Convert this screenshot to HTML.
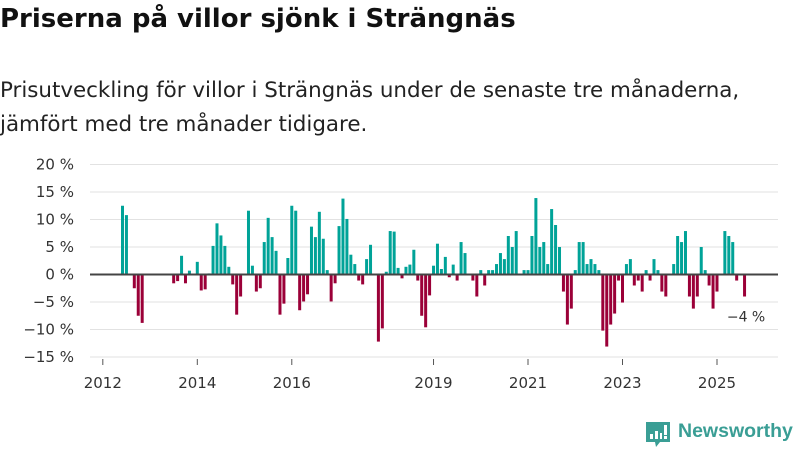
<!DOCTYPE html>
<html><head><meta charset="utf-8"><style>
body{margin:0;width:800px;height:450px;background:#fff;overflow:hidden;font-family:"DejaVu Sans","Liberation Sans",sans-serif;color:#222}
h1{position:absolute;left:0;top:4px;margin:0;font-size:26px;font-weight:bold;color:#111;letter-spacing:0}
.sub{position:absolute;left:0;top:74px;font-size:21.4px;line-height:34px;color:#222;white-space:nowrap}
svg{position:absolute;left:0;top:0}
</style></head><body>
<h1>Priserna på villor sjönk i Strängnäs</h1>
<div class="sub">Prisutveckling för villor i Strängnäs under de senaste tre månaderna,<br>jämfört med tre månader tidigare.</div>
<svg id="chart" width="800" height="450"></svg>
<script>
const yTicks=[20,15,10,5,0,-5,-10,-15];
const yTickLabels=["20 %","15 %","10 %","5 %","0 %","−5 %","−10 %","−15 %"];
const xTickYears=[2012,2014,2016,2019,2021,2023,2025];
const startMonth=5; // months since Jan 2012
const values=[12.5,10.8,0,-2.5,-7.5,-8.8,0,0,0,0,0,0,0,-1.6,-1.2,3.4,-1.6,0.7,0,2.3,-2.9,-2.7,0.2,5.2,9.3,7.1,5.2,1.4,-1.8,-7.3,-4,0,11.6,1.6,-3.1,-2.5,5.9,10.3,6.8,4.3,-7.3,-5.3,3,12.5,11.6,-6.5,-4.9,-3.6,8.7,6.8,11.4,6.5,0.8,-4.9,-1.6,8.8,13.8,10.1,3.6,1.9,-1.1,-1.8,2.8,5.4,0,-12.2,-9.8,0.5,7.9,7.8,1.2,-0.7,1.4,1.8,4.5,-1.1,-7.5,-9.6,-3.8,1.6,5.6,1,3.2,-0.5,1.8,-1.1,5.9,3.9,0,-1.1,-4,0.8,-2,0.8,0.8,1.9,3.9,2.8,7,5,7.9,0,0.8,0.8,7,13.9,5,5.9,1.9,11.9,9,5,-3.1,-9.1,-6.2,0.8,5.9,5.9,1.9,2.8,1.9,0.8,-10.2,-13.1,-9.1,-7.1,-1.1,-5.1,1.9,2.8,-2,-1.1,-3.1,0.8,-1.1,2.8,0.8,-3.1,-4,0,1.9,7,5.9,7.9,-4,-6.2,-4,5,0.8,-2,-6.2,-3.1,0,7.9,7,5.9,-1.1,0,-4];
const lastLabel="−4 %";

const NS="http://www.w3.org/2000/svg";
const svg=document.getElementById('chart');
const y=v=>274.5-v*5.5;
const x=m=>121+(m-startMonth)*3.937;
function mk(t,a){const e=document.createElementNS(NS,t);for(const k in a)e.setAttribute(k,a[k]);svg.appendChild(e);return e;}
yTicks.forEach((t,i)=>{
  const g=mk('line',{x1:90,x2:778,y1:y(t),y2:y(t),stroke:'#e2e2e2','stroke-width':1});
  
  
  const l=mk('text',{x:74,y:y(t)+5,'text-anchor':'end','font-size':15,fill:'#333'});
  l.textContent=yTickLabels[i];
  
  
});
xTickYears.forEach(yr=>{
  const m=(yr-2012)*12;
  const xp=x(m)+1.5;
  const tk=mk('line',{x1:xp,x2:xp,y1:359,y2:365,stroke:'#555','stroke-width':1});
  
  
  const l=mk('text',{x:xp,y:388,'text-anchor':'middle','font-size':15,fill:'#333'});
  l.textContent=yr;
  
  
});
values.forEach((v,i)=>{
  if(v===0)return;
  const m=startMonth+i;
  const r=mk('rect',{x:x(m),width:3,y:Math.min(y(v),y(0)),height:Math.abs(y(v)-y(0)),fill:v>0?'#00a398':'#9b0038'});
  
  
});
const base=mk('line',{x1:90,x2:778,y1:y(0),y2:y(0),stroke:'#444','stroke-width':2});


const lm=startMonth+values.length-1;
const lv=mk('text',{x:x(lm)+3,y:y(values[values.length-1])+25,'text-anchor':'middle','font-size':14,fill:'#333'});
lv.textContent=lastLabel;


</script>
<div style="position:absolute;left:645px;top:420px;height:30px">
<svg width="26" height="30" style="position:absolute;left:0;top:0">
<path d="M1 2h24v20h-10l-4 5-1-5H1z" fill="#3a9e95"/>
<rect x="5" y="14" width="3" height="5" fill="#fff"/><rect x="10" y="11" width="3" height="8" fill="#fff"/><rect x="15" y="13" width="2" height="6" fill="#fff"/><rect x="19" y="5" width="3" height="10" fill="#fff"/><rect x="19" y="16" width="3" height="3" fill="#fff"/>
</svg>
<span style="position:absolute;left:33px;top:0px;font-size:19.5px;color:#3a9e95;font-weight:bold;white-space:nowrap;font-family:'Liberation Sans',sans-serif">Newsworthy</span>
</div>
</body></html>
